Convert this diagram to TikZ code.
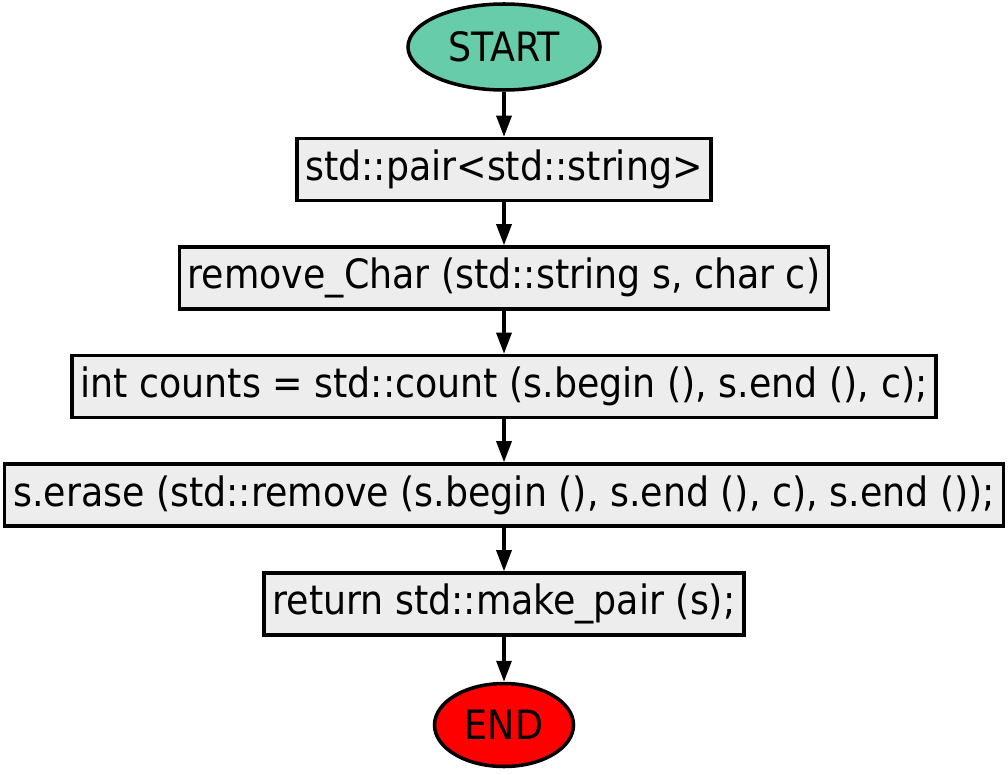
\documentclass[tikz,border=0pt]{standalone}
\usepackage{fontspec}
\setmainfont{DejaVu Sans Condensed}
\usetikzlibrary{shapes.geometric,arrows.meta}

\tikzset{
	stmt/.style={shape=rectangle, draw, line width=2pt, fill=black!7, minimum height=1.24cm, inner xsep=0.17cm},
	term/.style={shape=ellipse, draw, line width=2pt, inner sep=0pt},
	flow/.style={-{Triangle[length=0.42cm,width=0.3cm]}, line width=1.8pt}
}
\definecolor{startgreen}{RGB}{102,204,170}

\begin{document}
\begin{tikzpicture}[font=\fontsize{23}{27}\selectfont]
	\useasboundingbox (0,0) rectangle (20.16,-15.48);
	\node[term, fill=startgreen, minimum width=3.84cm, minimum height=1.72cm] (1) at (10.08,-0.94) {START};
	\node[stmt] (2) at (10.08,-3.39) {std::pair<std::string>};
	\node[stmt] (3) at (10.08,-5.56) {remove\_Char (std::string s, char c)};
	\node[stmt] (4) at (10.08,-7.73) {int counts = std::count (s.begin (), s.end (), c);};
	\node[stmt] (5) at (10.08,-9.90) {s.erase (std::remove (s.begin (), s.end (), c), s.end ());};
	\node[stmt] (6) at (10.08,-12.08) {return std::make\_pair (s);};
	\node[term, fill=red, minimum width=2.78cm, minimum height=1.66cm] (7) at (10.08,-14.50) {END};
	
	\path [flow] (1) edge (2);
	\path [flow] (2) edge (3);
	\path [flow] (3) edge (4);
	\path [flow] (4) edge (5);
	\path [flow] (5) edge (6);
	\path [flow] (6) edge (7);
\end{tikzpicture}
\end{document}
